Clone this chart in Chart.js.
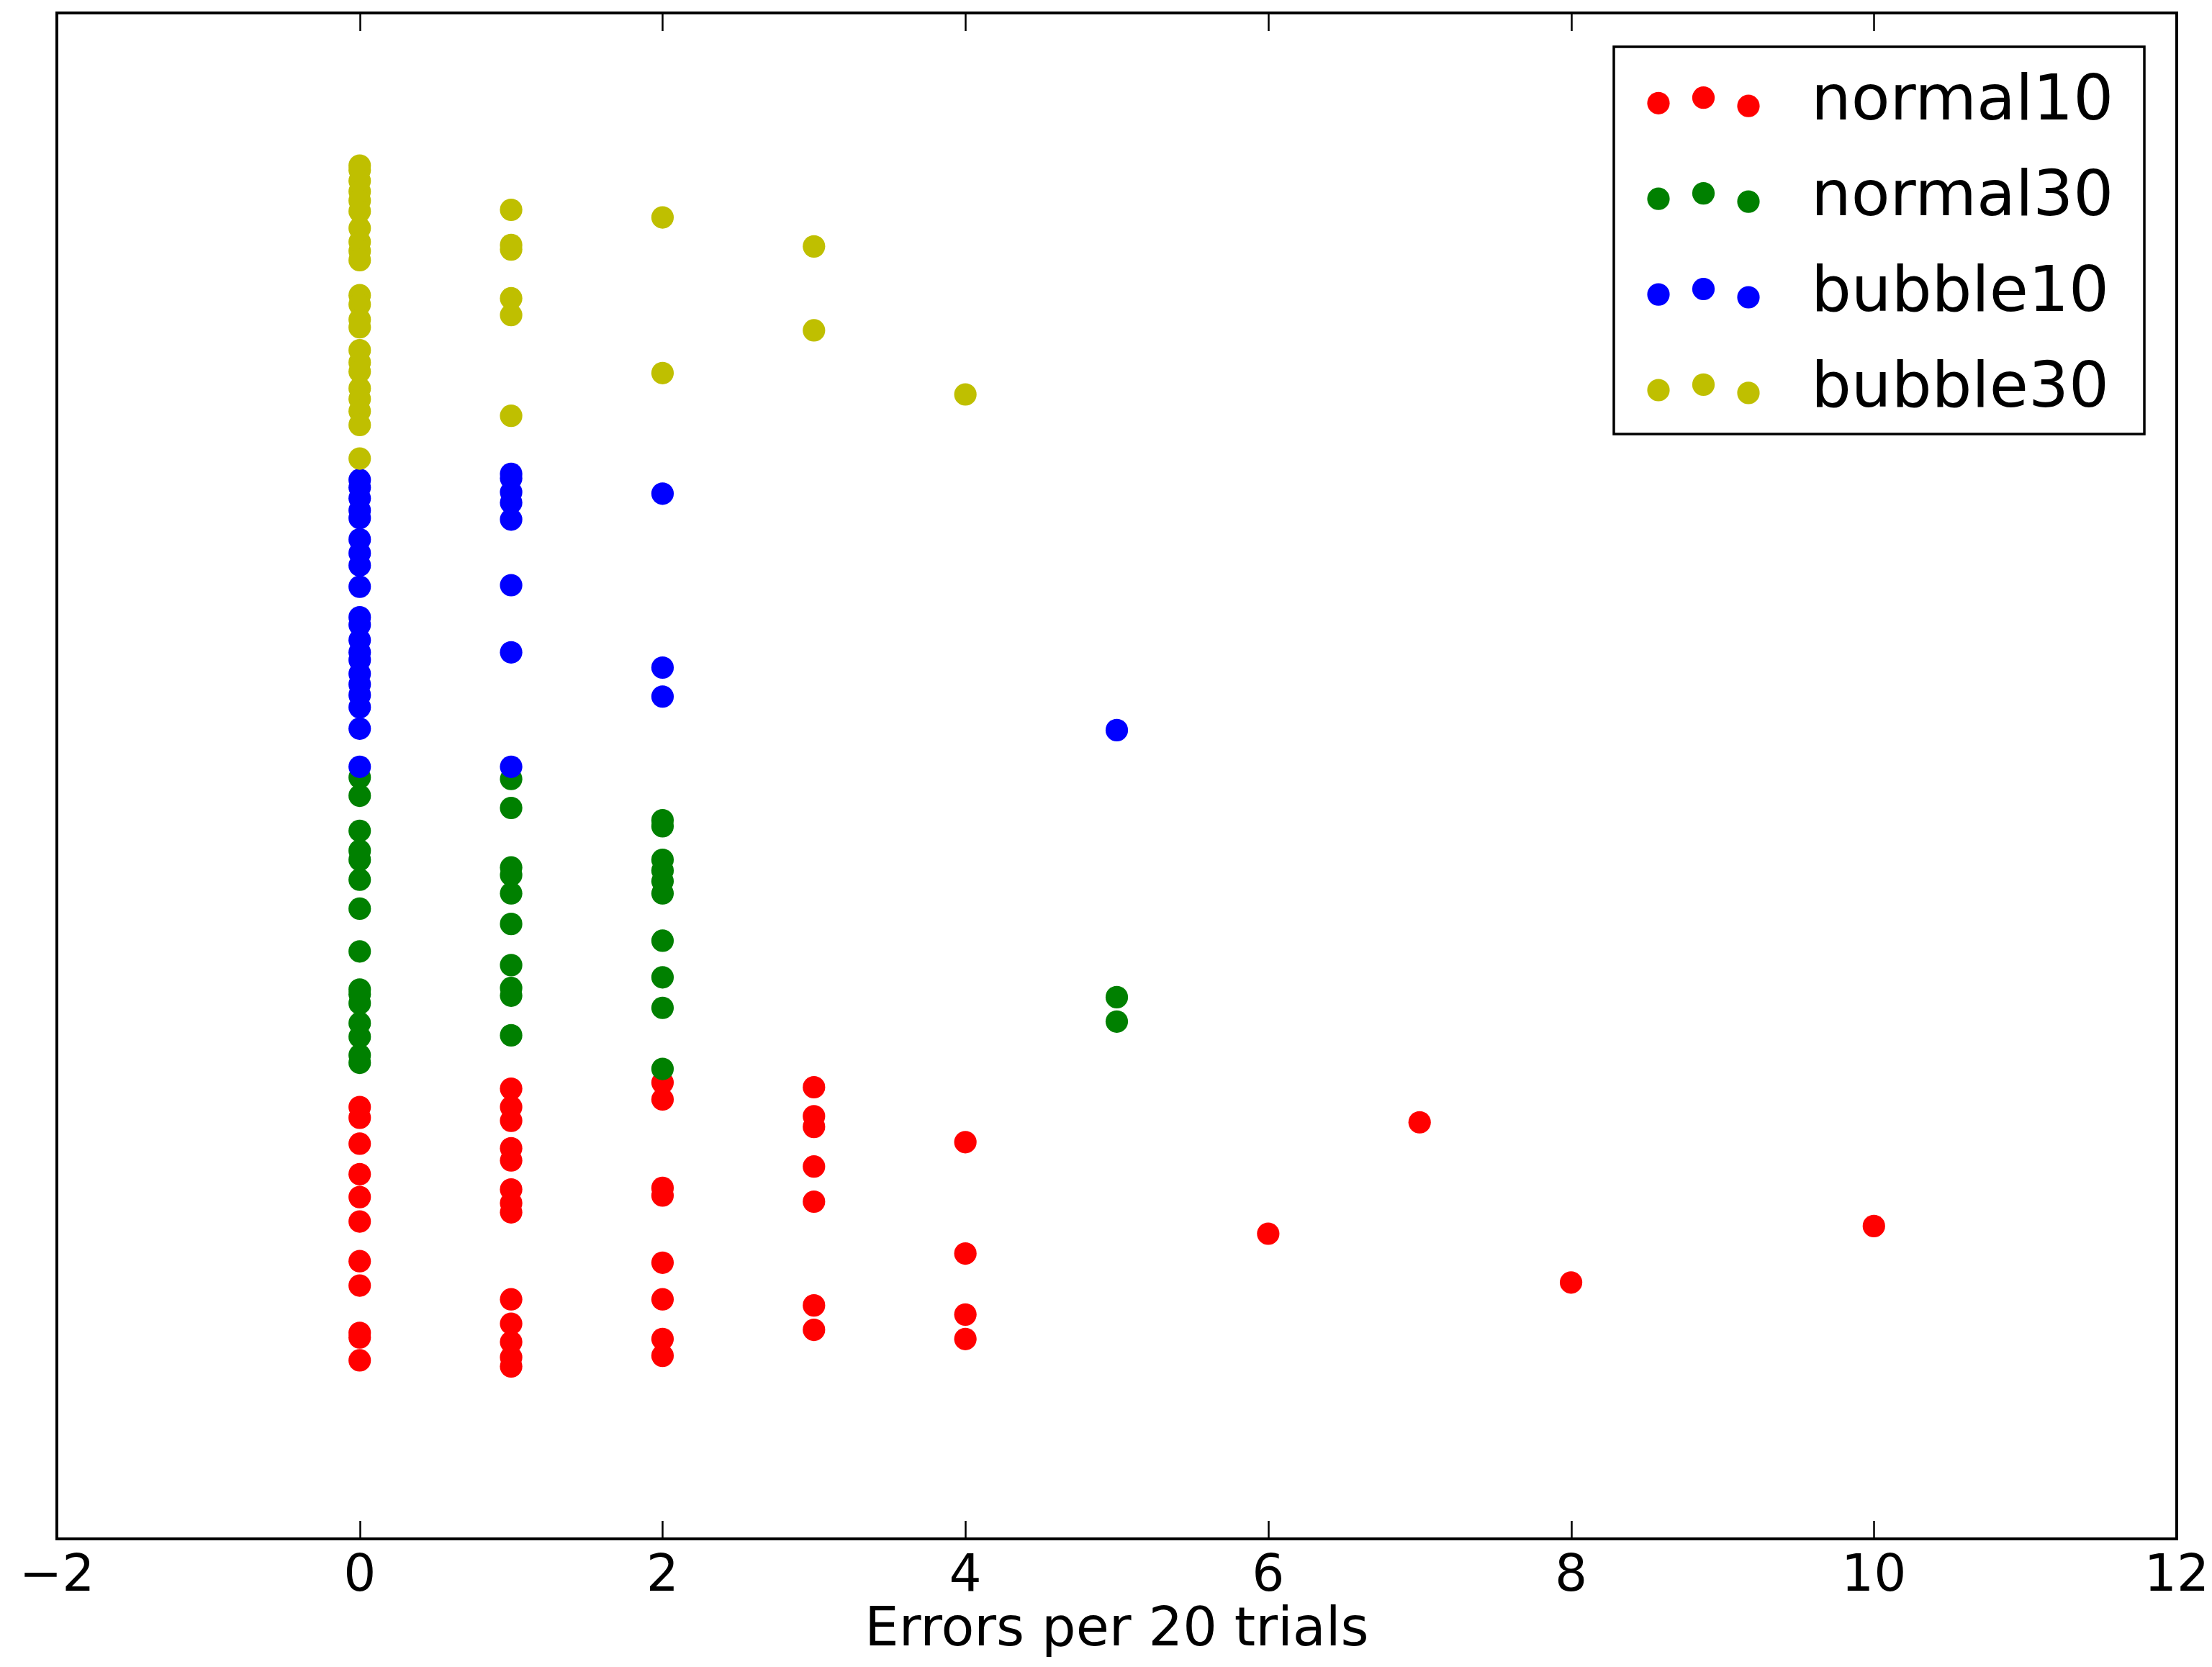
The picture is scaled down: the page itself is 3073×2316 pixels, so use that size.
<!DOCTYPE html>
<html>
<head>
<meta charset="utf-8">
<title>Errors per 20 trials</title>
<script src="https://cdn.jsdelivr.net/npm/chart.js@4.4.1/dist/chart.umd.min.js"></script>
<style>
  html, body { margin: 0; padding: 0; background: #fff; }
  canvas { display: block; }
</style>
</head>
<body>
<canvas id="scatter" width="3073" height="2316"></canvas>
<script>
// error counts (x) and the measured score (y) for each group, one list per error count
const xTicks = [-2, 0, 2, 4, 6, 8, 10, 12];

const normal10Errors = [0, 1, 2, 3, 4, 6, 7, 8, 10];
const normal10Values = [
    [28.3, 27.6, 25.9, 23.9, 22.4, 20.8, 18.2, 16.6, 13.5, 13.2, 11.7],
    [29.5, 28.3, 27.4, 25.6, 24.8, 22.9, 22.0, 21.4, 15.7, 14.1, 12.9, 11.9, 11.3],
    [29.9, 28.8, 23.0, 22.5, 18.1, 15.7, 13.1, 12.0],
    [29.6, 27.7, 27.0, 24.4, 22.1, 15.3, 13.7],
    [26.0, 18.7, 14.7, 13.1],
    [20.0],
    [27.3],
    [16.8],
    [20.5]
];

const normal30Errors = [0, 1, 2, 5];
const normal30Values = [
    [49.9, 48.7, 46.4, 45.1, 44.5, 43.2, 41.3, 38.5, 36.0, 35.7, 35.1, 33.8, 32.9, 31.7, 31.2],
    [49.8, 47.9, 44.0, 43.5, 42.3, 40.3, 37.6, 36.1, 35.6, 33.0],
    [47.1, 46.7, 44.5, 43.8, 43.1, 42.3, 39.2, 36.8, 34.8, 30.8],
    [35.5, 33.9]
];

const bubble10Errors = [0, 1, 2, 5];
const bubble10Values = [
    [69.4, 68.9, 68.2, 67.4, 66.9, 65.5, 64.6, 63.8, 62.4, 60.4, 59.9, 58.9, 58.1, 57.6,
     56.7, 56.0, 55.3, 54.5, 53.1, 50.6],
    [69.8, 69.5, 68.6, 67.9, 66.8, 62.5, 58.1, 50.6],
    [68.5, 57.1, 55.2],
    [53.0]
];

const bubble30Errors = [0, 1, 2, 3, 4];
const bubble30Values = [
    [90.0, 89.7, 89.0, 88.3, 87.7, 87.0, 85.9, 85.0, 84.4, 83.8, 81.5, 80.9, 79.9, 79.4,
     77.9, 77.1, 76.5, 75.4, 74.7, 73.9, 73.0, 70.8],
    [87.1, 84.8, 84.5, 81.3, 80.2, 73.6],
    [86.6, 76.4],
    [84.7, 79.2],
    [75.0]
];

const FONT = 'DejaVu Sans';

function toPoints(errors, values) {
    return errors.flatMap((e, i) => values[i].map(v => ({ x: e, y: v })));
}

function series(label, color, errors, values, order) {
    return {
        label: label,
        data: toPoints(errors, values),
        backgroundColor: color,
        borderColor: color,
        borderWidth: 0,
        pointRadius: 15.6,
        pointHoverRadius: 15.6,
        showLine: false,
        order: order
    };
}

/* frame around the axes plus inward tick marks at top and bottom */
const frameTicks = {
    id: 'frameTicks',
    afterDatasetsDraw(chart) {
        const { ctx, chartArea: a, scales } = chart;
        ctx.save();
        ctx.strokeStyle = '#000';
        ctx.lineWidth = 2.5;
        xTicks.forEach(t => {
            const px = Math.round(scales.x.getPixelForValue(t)) + 0.5;
            ctx.beginPath();
            ctx.moveTo(px, a.bottom);
            ctx.lineTo(px, a.bottom - 25);
            ctx.moveTo(px, a.top);
            ctx.lineTo(px, a.top + 25);
            ctx.stroke();
        });
        ctx.lineWidth = 4;
        ctx.strokeRect(a.left, a.top, a.right - a.left, a.bottom - a.top);
        ctx.restore();
    }
};

/* legend box in the upper right: three scattered markers per entry */
const scatterLegend = {
    id: 'scatterLegend',
    afterDraw(chart) {
        const ctx = chart.ctx;
        const box = { x: 2242, y: 65, w: 737, h: 538 };
        const rowStep = 132.9;
        const dotX = [2304, 2366.5, 2429];
        const dotY = [143.3, 135.7, 147.2];
        ctx.save();
        ctx.fillStyle = '#fff';
        ctx.fillRect(box.x, box.y, box.w, box.h);
        ctx.strokeStyle = '#000';
        ctx.lineWidth = 3.5;
        ctx.strokeRect(box.x, box.y, box.w, box.h);
        ctx.font = '88px "' + FONT + '"';
        ctx.textBaseline = 'alphabetic';
        ctx.textAlign = 'left';
        chart.data.datasets.forEach((ds, i) => {
            const dy = i * rowStep;
            ctx.fillStyle = ds.backgroundColor;
            dotX.forEach((x, k) => {
                ctx.beginPath();
                ctx.arc(x, dotY[k] + dy, 15.6, 0, Math.PI * 2);
                ctx.fill();
            });
            ctx.fillStyle = '#000';
            ctx.fillText(ds.label, 2516, 166 + dy);
        });
        ctx.restore();
    }
};

new Chart(document.getElementById('scatter'), {
    type: 'scatter',
    data: {
        datasets: [
            series('normal10', '#ff0000', normal10Errors, normal10Values, 3),
            series('normal30', '#008000', normal30Errors, normal30Values, 2),
            series('bubble10', '#0000ff', bubble10Errors, bubble10Values, 1),
            series('bubble30', '#bfbf00', bubble30Errors, bubble30Values, 0)
        ]
    },
    options: {
        responsive: false,
        devicePixelRatio: 1,
        animation: false,
        layout: { padding: { left: 79, right: 49, top: 18, bottom: 0 } },
        plugins: {
            legend: { display: false },
            tooltip: { enabled: false }
        },
        scales: {
            x: {
                type: 'linear',
                min: -2,
                max: 12,
                grid: { display: false },
                border: { display: false },
                afterBuildTicks: scale => { scale.ticks = xTicks.map(v => ({ value: v })); },
                afterFit: scale => { scale.height = 178; },
                ticks: {
                    padding: 3,
                    color: '#000',
                    maxRotation: 0,
                    autoSkip: false,
                    font: { family: FONT, size: 71 },
                    callback: v => (v < 0 ? '\u2212' + Math.abs(v) : String(v))
                },
                title: {
                    display: true,
                    text: 'Errors per 20 trials',
                    color: '#000',
                    font: { family: FONT, size: 75 },
                    padding: { top: 0, bottom: 4 }
                }
            },
            y: {
                type: 'linear',
                min: 0,
                max: 100,
                display: false
            }
        }
    },
    plugins: [frameTicks, scatterLegend]
});
</script>
</body>
</html>
